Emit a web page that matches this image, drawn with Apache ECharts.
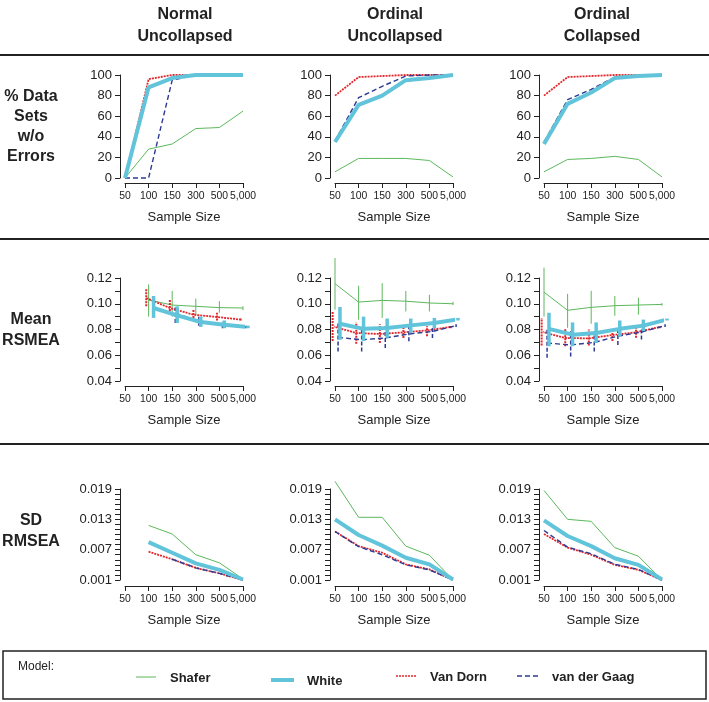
<!DOCTYPE html>
<html><head><meta charset="utf-8">
<script src="https://cdn.jsdelivr.net/npm/echarts@6/dist/echarts.min.js"></script>
<style>html,body{margin:0;padding:0;background:#fff}#c{width:709px;height:702px}</style>
</head><body><div id="c"></div>
<script>
// ---------- data ----------
const sampleSizes = ['50', '100', '150', '300', '500', '5,000'];
const models = ['Shafer', 'White', 'Van Dorn', 'van der Gaag'];
const columnTitles = [['Normal', 'Uncollapsed'], ['Ordinal', 'Uncollapsed'], ['Ordinal', 'Collapsed']];
const rowTitles = [['% Data', 'Sets', 'w/o', 'Errors'], ['Mean', 'RSMEA'], ['SD', 'RMSEA']];
const xAxisName = 'Sample Size';
const legendTitle = 'Model:';

// Row 1: % data sets without errors (rows: Shafer, White, Van Dorn, van der Gaag)
const pctNormalUncollapsed = [
  [0, 28, 33, 48, 49, 65],
  [0, 88, 97, 100, 100, 100],
  [0, 96, 100, 100, 100, 100],
  [0, 0, 95, 100, 100, 100]];
const pctOrdinalUncollapsed = [
  [6, 19, 19, 19, 17, 1],
  [35, 71, 80, 95, 97, 100],
  [80, 98, 99, 100, 100, 100],
  [36, 78, 89, 99, 100, 100]];
const pctOrdinalCollapsed = [
  [6, 18, 19, 21, 18, 1],
  [33, 72, 83, 97, 99, 100],
  [80, 98, 99, 100, 100, 100],
  [35, 76, 86, 98, 99, 100]];

// Row 2: mean RMSEA with lower / upper bar ends
const meanNormalUncollapsed = [
  [null, 0.103, 0.099, 0.098, 0.097, 0.0967],
  [null, 0.0967, 0.091, 0.0858, 0.0837, 0.082],
  [null, 0.1045, 0.0967, 0.0915, 0.0897, 0.0877],
  [null, null, 0.0928, 0.0863, 0.0837, 0.082]];
const lowNormalUncollapsed = [
  [null, 0.090, 0.090, 0.091, 0.093, 0.095],
  [null, 0.089, 0.085, 0.082, 0.081, 0.081],
  [null, 0.098, 0.092, 0.089, 0.087, 0.087],
  [null, null, 0.085, 0.083, 0.081, 0.081]];
const highNormalUncollapsed = [
  [null, 0.115, 0.110, 0.104, 0.102, 0.098],
  [null, 0.106, 0.098, 0.090, 0.087, 0.083],
  [null, 0.112, 0.103, 0.096, 0.093, 0.089],
  [null, null, 0.097, 0.090, 0.086, 0.083]];

const meanOrdinalUncollapsed = [
  [0.1156, 0.1013, 0.1026, 0.102, 0.1006, 0.100],
  [0.0845, 0.0805, 0.0811, 0.0832, 0.085, 0.088],
  [0.0824, 0.0773, 0.0765, 0.0778, 0.0793, 0.082],
  [0.0739, 0.072, 0.0734, 0.0765, 0.0785, 0.083]];
const lowOrdinalUncollapsed = [
  [0.0954, 0.0876, 0.089, 0.094, 0.094, 0.099],
  [0.072, 0.071, 0.0735, 0.0775, 0.081, 0.087],
  [0.071, 0.069, 0.0695, 0.0734, 0.0748, 0.081],
  [0.063, 0.063, 0.0656, 0.0708, 0.0734, 0.082]];
const highOrdinalUncollapsed = [
  [0.1355, 0.114, 0.116, 0.110, 0.107, 0.1015],
  [0.0975, 0.090, 0.0885, 0.0885, 0.089, 0.089],
  [0.094, 0.0855, 0.084, 0.082, 0.0826, 0.083],
  [0.0863, 0.081, 0.083, 0.082, 0.082, 0.084]];

const meanOrdinalCollapsed = [
  [0.109, 0.0949, 0.0972, 0.0985, 0.099, 0.0995],
  [0.0805, 0.076, 0.0773, 0.0805, 0.083, 0.0878],
  [0.0783, 0.0734, 0.0731, 0.0757, 0.0778, 0.082],
  [0.0695, 0.068, 0.070, 0.0748, 0.078, 0.083]];
const lowOrdinalCollapsed = [
  [0.090, 0.0813, 0.0845, 0.0907, 0.0915, 0.0985],
  [0.067, 0.067, 0.0695, 0.0745, 0.0787, 0.087],
  [0.0675, 0.067, 0.0675, 0.071, 0.0735, 0.081],
  [0.058, 0.059, 0.063, 0.068, 0.0723, 0.082]];
const highOrdinalCollapsed = [
  [0.128, 0.1077, 0.110, 0.106, 0.1047, 0.1005],
  [0.093, 0.0855, 0.0855, 0.087, 0.0877, 0.0885],
  [0.089, 0.081, 0.080, 0.080, 0.0813, 0.083],
  [0.081, 0.0787, 0.0787, 0.081, 0.0813, 0.084]];

// Row 3: SD of RMSEA
const sdNormalUncollapsed = [
  [null, 0.0118, 0.0101, 0.0060, 0.0044, 0.0012],
  [null, 0.0085, 0.0064, 0.0043, 0.0030, 0.0011],
  [null, 0.0066, 0.0051, 0.0034, 0.0023, 0.0010],
  [null, null, 0.0051, 0.0034, 0.0023, 0.0010]];
const sdOrdinalUncollapsed = [
  [0.0205, 0.0134, 0.0134, 0.0077, 0.0059, 0.0010],
  [0.0130, 0.0099, 0.0078, 0.0054, 0.0041, 0.0011],
  [0.0106, 0.0077, 0.0064, 0.0041, 0.0031, 0.0010],
  [0.0106, 0.0076, 0.0060, 0.0040, 0.0030, 0.0010]];
const sdOrdinalCollapsed = [
  [0.0187, 0.0130, 0.0126, 0.0074, 0.0057, 0.0010],
  [0.0128, 0.0097, 0.0077, 0.0053, 0.0040, 0.0011],
  [0.0101, 0.0074, 0.0060, 0.0040, 0.0030, 0.0010],
  [0.0108, 0.0075, 0.0062, 0.0041, 0.0031, 0.0010]];

// ---------- styles / layout ----------
const FONT = '"Liberation Sans", Arial, Helvetica, sans-serif';
const INK = '#222';
const xLabelSize = 10.4;

const modelStyles = [
  { color: '#5cb85c', width: 1, dash: 'solid', barWidth: 1, barDash: null, z: 2 },
  { color: '#62c4da', width: 4, dash: 'solid', barWidth: 3.5, barDash: null, z: 5 },
  { color: '#e3262b', width: 1.8, dash: [2, 1], barWidth: 2, barDash: [2, 1], z: 3 },
  { color: '#2e3a93', width: 1.4, dash: [5, 3], barWidth: 1.5, barDash: [4, 2], z: 4 }];
const dodge = [0, 0.21, -0.1, 0.13];
const colX = [125, 335, 544];
const panelW = 118;
const rowLayout = [
  { top: 75, height: 103, xOffset: 5 },
  { top: 278, height: 103, xOffset: 5 },
  { top: 489, height: 91, xOffset: 6 }];
const rowAxes = [
  { min: 0, max: 100, interval: 20, fmt: v => String(Math.round(v)) },
  { min: 0.04, max: 0.12, interval: 0.01, fmt: v => (Math.round(v * 100) % 2 === 0 ? v.toFixed(2) : '') },
  { min: 0.001, max: 0.019, interval: 0.001, fmt: v => ((Math.round(v * 1000) - 1) % 6 === 0 ? v.toFixed(3) : '') }];

const panels = [
  { row: 0, col: 0, vals: pctNormalUncollapsed },
  { row: 0, col: 1, vals: pctOrdinalUncollapsed },
  { row: 0, col: 2, vals: pctOrdinalCollapsed },
  { row: 1, col: 0, vals: meanNormalUncollapsed, lo: lowNormalUncollapsed, hi: highNormalUncollapsed },
  { row: 1, col: 1, vals: meanOrdinalUncollapsed, lo: lowOrdinalUncollapsed, hi: highOrdinalUncollapsed },
  { row: 1, col: 2, vals: meanOrdinalCollapsed, lo: lowOrdinalCollapsed, hi: highOrdinalCollapsed },
  { row: 2, col: 0, vals: sdNormalUncollapsed },
  { row: 2, col: 1, vals: sdOrdinalUncollapsed },
  { row: 2, col: 2, vals: sdOrdinalCollapsed }];

const grids = [], xAxes = [], yAxes = [], series = [];
panels.forEach((p, gi) => {
  const rl = rowLayout[p.row], ra = rowAxes[p.row];
  grids.push({ left: colX[p.col], top: rl.top, width: panelW, height: rl.height, containLabel: false });
  xAxes.push({
    gridIndex: gi, type: 'value', min: 0, max: 5, interval: 1, offset: rl.xOffset,
    axisLine: { show: true, onZero: false, lineStyle: { color: INK, width: 1 } },
    axisTick: { show: true, length: 5, lineStyle: { color: INK } },
    axisLabel: { formatter: v => sampleSizes[Math.round(v)], fontSize: xLabelSize, color: INK, fontFamily: FONT, margin: 8,
      showMinLabel: true, showMaxLabel: true, hideOverlap: false },
    splitLine: { show: false },
    name: xAxisName, nameLocation: 'middle', nameGap: 28,
    nameTextStyle: { fontSize: 13, color: INK, fontFamily: FONT }
  });
  yAxes.push({
    gridIndex: gi, type: 'value', min: ra.min, max: ra.max, interval: ra.interval, offset: 5,
    axisLine: { show: true, onZero: false, lineStyle: { color: INK, width: 1 } },
    axisTick: { show: true, length: 5, lineStyle: { color: INK } },
    axisLabel: { formatter: ra.fmt, fontSize: 13, color: INK, fontFamily: FONT, margin: 8,
      showMinLabel: true, showMaxLabel: true, hideOverlap: false },
    splitLine: { show: false }
  });
  p.vals.forEach((vals, m) => {
    const st = modelStyles[m];
    const dx = p.lo ? dodge[m] : 0;
    const pts = [];
    vals.forEach((v, i) => { if (v != null) pts.push([i + dx, v]); });
    series.push({
      type: 'line', name: models[m], xAxisIndex: gi, yAxisIndex: gi, data: pts,
      symbol: 'none', clip: false, silent: true, z: st.z,
      lineStyle: { color: st.color, width: st.width, type: st.dash }
    });
    if (p.lo) {
      const bars = [];
      vals.forEach((v, i) => { if (p.lo[m][i] != null) bars.push([i + dx, p.lo[m][i], p.hi[m][i]]); });
      series.push({
        type: 'custom', name: models[m] + ' range', xAxisIndex: gi, yAxisIndex: gi, data: bars, z: st.z,
        silent: true,
        renderItem: (params, api) => {
          const a = api.coord([api.value(0), api.value(1)]);
          const b = api.coord([api.value(0), api.value(2)]);
          return { type: 'line', shape: { x1: a[0], y1: a[1], x2: b[0], y2: b[1] },
            style: { stroke: st.color, lineWidth: st.barWidth, lineDash: st.barDash || undefined } };
        }
      });
    }
  });
});

// ---------- frame: headers, row titles, separators, legend ----------
const graphics = [];
const txt = (s, x, y, size, weight, align) => graphics.push({
  type: 'text', x: x, y: y, silent: true,
  style: { text: s, fill: INK, font: weight + ' ' + size + 'px ' + FONT, textAlign: align || 'center', align: align || 'center', textVerticalAlign: 'middle', verticalAlign: 'middle' }
});
const headerX = [185, 395, 602];
columnTitles.forEach((t, c) => { txt(t[0], headerX[c], 15, 16, 'bold'); txt(t[1], headerX[c], 37, 16, 'bold'); });
const rowTitleY = [[97, 117, 137, 157], [320, 341], [521, 542]];
rowTitles.forEach((t, r) => t.forEach((s, k) => txt(s, 31, rowTitleY[r][k], 16, 'bold')));
[55, 239, 444].forEach(y => graphics.push({ type: 'line', silent: true, shape: { x1: 0, y1: y, x2: 709, y2: y }, style: { stroke: INK, lineWidth: 2 } }));
graphics.push({ type: 'rect', silent: true, shape: { x: 3, y: 651, width: 703, height: 48 }, style: { fill: 'none', stroke: INK, lineWidth: 1.5 } });
txt(legendTitle, 18, 667, 12, 'normal', 'left');
const legX = [[136, 156, 170, 677], [271, 294, 307, 680], [396, 416, 430, 676], [517, 538, 552, 676]];
models.forEach((m, k) => {
  const st = modelStyles[k], L = legX[k];
  graphics.push({ type: 'line', silent: true, shape: { x1: L[0], y1: L[3], x2: L[1], y2: L[3] },
    style: { stroke: st.color, lineWidth: k === 1 ? 4 : (k === 0 ? 1 : 1.5), lineDash: Array.isArray(st.dash) ? st.dash : undefined } });
  txt(m, L[2], L[3] + 1, 13, 'bold', 'left');
});

const chart = echarts.init(document.getElementById('c'), null, { renderer: 'canvas' });
chart.setOption({
  animation: false, backgroundColor: '#fff',
  grid: grids, xAxis: xAxes, yAxis: yAxes, series: series, graphic: { elements: graphics }
});
</script></body></html>
